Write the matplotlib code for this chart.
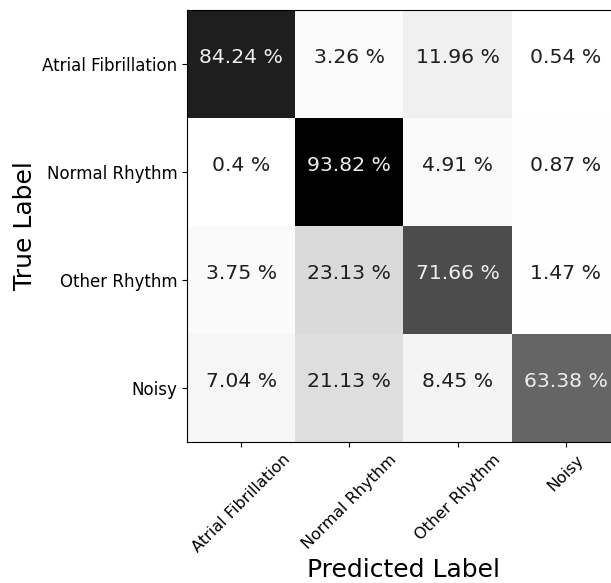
import matplotlib
matplotlib.use("Agg")
import matplotlib.pyplot as plt
import numpy as np

classes = ["Atrial Fibrillation", "Normal Rhythm", "Other Rhythm", "Noisy"]
# row-normalised confusion matrix, in percent
cm = np.array([
    [84.24, 3.26, 11.96, 0.54],
    [0.4, 93.82, 4.91, 0.87],
    [3.75, 23.13, 71.66, 1.47],
    [7.04, 21.13, 8.45, 63.38],
])

fig = plt.figure(figsize=(6.11, 5.83), dpi=100)
ax = fig.add_axes([187 / 611, 141 / 583, 433 / 611, 432 / 583])
ax.imshow(cm, interpolation="nearest", cmap=plt.cm.Greys, aspect="auto")

ticks = np.arange(len(classes))
ax.set_xticks(ticks)
ax.set_xticklabels(classes, rotation=45, fontsize=11.5, ha="center")
ax.set_yticks(ticks)
ax.set_yticklabels(classes, fontsize=12)

thresh = cm.max() / 2.0
for i in range(cm.shape[0]):
    for j in range(cm.shape[1]):
        ax.annotate("{} %".format(cm[i, j]), (j, i), xytext=(0, 5), textcoords="offset points",
                    ha="center", va="center", fontsize=14.7,
                    color="#eeeeee" if cm[i, j] > thresh else "#1e1e1e")

ax.set_ylabel("True Label", fontsize=18)
ax.set_xlabel("Predicted Label", fontsize=18, labelpad=2)

fig.savefig("out.png", dpi=100)
